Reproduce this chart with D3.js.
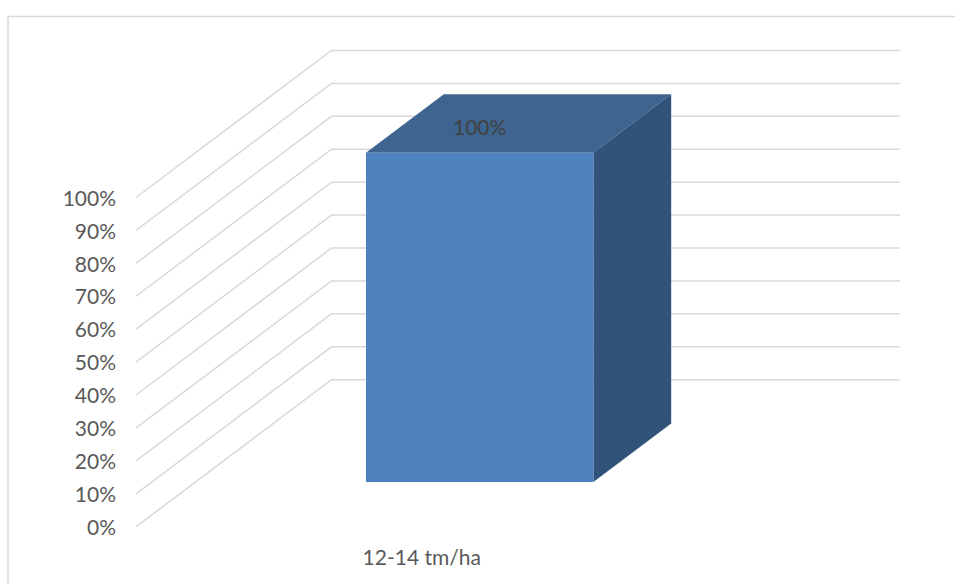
<!DOCTYPE html>
<html>
<head>
<meta charset="utf-8">
<style>
  html, body { margin: 0; padding: 0; background: #fff; }
  svg { display: block; }
  text { font-family: Lato, "Open Sans", sans-serif; }
</style>
<script src="https://cdn.jsdelivr.net/npm/d3@7"></script>
</head>
<body>
<svg id="chart" width="955" height="584"></svg>
<script>
// Chart data
const categories = ["12-14 tm/ha"];
const values = [1];
const valueLabels = ["100%"];
const tickValues = [0, 0.1, 0.2, 0.3, 0.4, 0.5, 0.6, 0.7, 0.8, 0.9, 1];

const svg = d3.select("#chart");
const fontSize = 21;

// Front plane of the 3D box, and the depth vector running to its back wall
const x = d3.scaleBand().domain(categories).range([136, 704.5]).paddingInner(0).paddingOuter(0.75);
const y = d3.scaleLinear().domain([0, 1]).range([526.7, 197.5]);
const depth = d3.scaleLinear().domain([0, 1]).range([[0, 0], [195.5, -147]]);

// Projects a plot position (px on the floor, value, depth fraction) to the screen
const project = (px, v, d) => {
  const [dx, dy] = depth(d);
  return [px + dx, y(v) + dy];
};
const path = d3.line();

// Chart frame
svg.append("path")
  .attr("d", "M8,584V16.5H955")
  .attr("fill", "none")
  .attr("stroke", "#d9d9d9")
  .attr("stroke-width", 1.5);

// Gridlines: side wall up to the back wall, then across it
svg.append("g").selectAll("path").data(tickValues).join("path")
  .attr("d", t => path([
    project(x.range()[0], t, 0),
    project(x.range()[0], t, 1),
    [900, project(0, t, 1)[1]]
  ]))
  .attr("fill", "none")
  .attr("stroke", "#d9d9d9")
  .attr("stroke-width", 1.5);

// Value axis labels
const axis = d3.axisLeft(y)
  .tickValues(tickValues)
  .tickFormat(d3.format(".0%"))
  .tickSize(0)
  .tickPadding(0);
const axisG = svg.append("g").attr("transform", "translate(116,1)").call(axis);
axisG.select(".domain").remove();
axisG.selectAll("text")
  .style("font-family", 'Lato, "Open Sans", sans-serif')
  .attr("font-size", fontSize)
  .attr("fill", "#595959");

// The single bar as a box: top, side, then front face
const zNear = 0.304, zFar = 0.702;
const bars = svg.append("g").selectAll("g").data(categories.map((c, i) => ({ c, v: values[i], label: valueLabels[i] }))).join("g");

const corners = d => {
  const l = x(d.c), r = l + x.bandwidth();
  return { l, r };
};
bars.append("path")
  .attr("fill", "#3e6490")
  .attr("d", d => {
    const { l, r } = corners(d);
    return path([project(l, d.v, zNear), project(l, d.v, zFar), project(r, d.v, zFar), project(r, d.v, zNear)]) + "Z";
  });
bars.append("path")
  .attr("fill", "#325379")
  .attr("d", d => {
    const { r } = corners(d);
    return path([project(r, 0, zNear), project(r, d.v, zNear), project(r, d.v, zFar), project(r, 0, zFar)]) + "Z";
  });
bars.append("path")
  .attr("fill", "#4f81bd")
  .attr("d", d => {
    const { l, r } = corners(d);
    return path([project(l, 0, zNear), project(l, d.v, zNear), project(r, d.v, zNear), project(r, 0, zNear)]) + "Z";
  });

// Data label, sitting on the top face of the bar
bars.append("text")
  .attr("x", d => project(x(d.c) + x.bandwidth() / 2, d.v, zNear)[0])
  .attr("y", 135)
  .attr("text-anchor", "middle")
  .attr("font-size", fontSize)
  .attr("fill", "#404040")
  .text(d => d.label);

// Category label
svg.append("g").selectAll("text").data(categories).join("text")
  .attr("x", d => x(d) + x.bandwidth() / 2 + 1.5)
  .attr("y", 565)
  .attr("text-anchor", "middle")
  .attr("font-size", fontSize)
  .attr("fill", "#595959")
  .text(d => d);
</script>
</body>
</html>
